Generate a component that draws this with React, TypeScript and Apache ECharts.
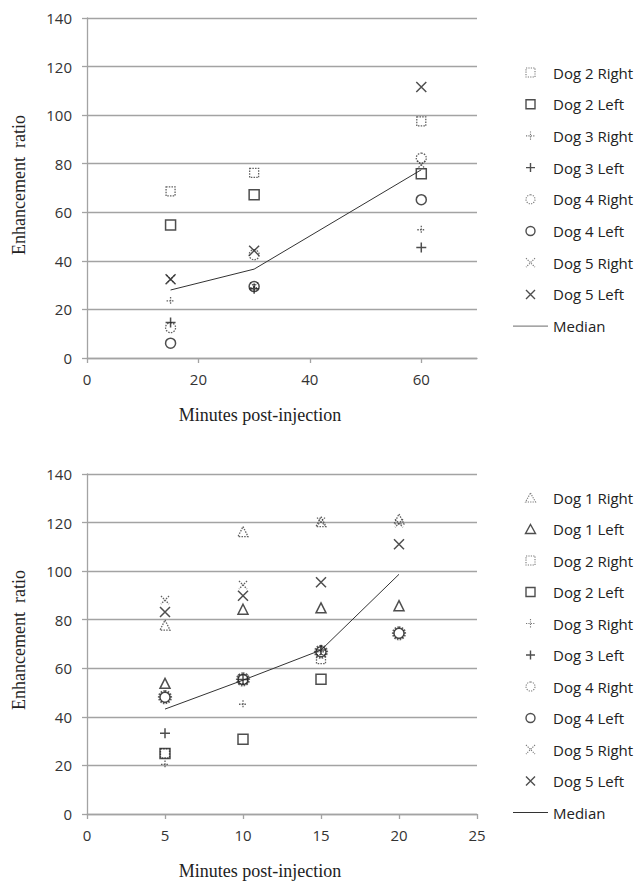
import React, { useEffect, useRef } from "react";
import * as echarts from "echarts";

// ---------- Data: top chart (minutes 15, 30, 60) ----------
const timesTop = [15, 30, 60];
const dog2RightTop = [68.6, 76.2, 97.4];
const dog2LeftTop = [54.8, 67.2, 75.9];
const dog3RightTop = [23.5, 29.0, 52.8];
const dog3LeftTop = [14.6, 28.5, 45.5];
const dog4RightTop = [12.5, 42.5, 82.3];
const dog4LeftTop = [6.1, 29.4, 65.2];
const dog5RightTop = [32.4, 29.5, 79.6];
const dog5LeftTop = [32.4, 44.2, 111.6];
const medianTop = [28.0, 36.6, 77.5];

// ---------- Data: bottom chart (minutes 5, 10, 15, 20) ----------
const timesBottom = [5, 10, 15, 20];
const dog1RightBottom = [77.8, 116.3, 120.4, 121.5];
const dog1LeftBottom = [53.8, 84.3, 84.9, 85.8];
const dog2RightBottom = [25.0, 55.4, 63.8, null];
const dog2LeftBottom = [24.9, 30.8, 55.5, null];
const dog3RightBottom = [20.4, 45.2, 66.8, null];
const dog3LeftBottom = [33.2, 55.4, 67.5, null];
const dog4RightBottom = [48.1, 55.4, 66.8, 74.4];
const dog4LeftBottom = [48.1, 55.4, 66.8, 74.4];
const dog5RightBottom = [88.1, 94.3, 120.4, 119.7];
const dog5LeftBottom = [83.2, 89.9, 95.4, 111.1];
const medianBottom = [43.2, 55.1, 67.5, 98.7];

const xTicksTop = { min: 0, max: 70, interval: 20 };
const xTicksBottom = { min: 0, max: 25, interval: 5 };
const yTicks = { min: 0, max: 140, interval: 20 };

const PLUS = "path://M5,0 L5,10 M0,5 L10,5";
const CROSS = "path://M0,0 L10,10 M10,0 L0,10";
const SQUARE = "path://M0,0 L10,0 L10,10 L0,10 Z";
const CIRCLE = "path://M5,0 A5,5 0 1,1 5,10 A5,5 0 1,1 5,0 Z";
const TRIANGLE = "path://M5,0 L10,9 L0,9 Z";
const LINE_ICON = "path://M0,0 L35,0 L35,1.2 L0,1.2 Z";

const GRID_COLOR = "#a3a3a3";
const SOLID = "#222";
const DOTTED = "#3a3a3a";

type Sty = { symbol: string; size: number; dotted: boolean; width?: number };

const STYLE_TOP: Record<string, Sty> = {
  "Dog 2 Right": { symbol: SQUARE, size: 9, dotted: true },
  "Dog 2 Left": { symbol: SQUARE, size: 10, dotted: false },
  "Dog 3 Right": { symbol: PLUS, size: 8, dotted: true },
  "Dog 3 Left": { symbol: PLUS, size: 10, dotted: false },
  "Dog 4 Right": { symbol: CIRCLE, size: 10, dotted: true },
  "Dog 4 Left": { symbol: CIRCLE, size: 10, dotted: false },
  "Dog 5 Right": { symbol: CROSS, size: 8, dotted: true },
  "Dog 5 Left": { symbol: CROSS, size: 10, dotted: false },
};

const STYLE_BOTTOM: Record<string, Sty> = {
  "Dog 1 Right": { symbol: TRIANGLE, size: 10, dotted: true },
  "Dog 1 Left": { symbol: TRIANGLE, size: 10, dotted: false },
  "Dog 2 Right": { symbol: SQUARE, size: 9, dotted: true },
  "Dog 2 Left": { symbol: SQUARE, size: 10, dotted: false },
  "Dog 3 Right": { symbol: PLUS, size: 8, dotted: true },
  "Dog 3 Left": { symbol: PLUS, size: 10, dotted: false },
  "Dog 4 Right": { symbol: CIRCLE, size: 12, dotted: true, width: 2.2 },
  "Dog 4 Left": { symbol: CIRCLE, size: 10, dotted: false },
  "Dog 5 Right": { symbol: CROSS, size: 8, dotted: true },
  "Dog 5 Left": { symbol: CROSS, size: 10, dotted: false },
};

function scatter(name: string, xs: number[], ys: (number | null)[], st: Sty) {
  const data: number[][] = [];
  xs.forEach((x, i) => {
    const y = ys[i];
    if (y !== null && y !== undefined) data.push([x, y]);
  });
  return {
    type: "scatter",
    name,
    data,
    symbol: st.symbol,
    symbolSize: st.size,
    itemStyle: {
      color: "rgba(0,0,0,0)",
      borderColor: st.dotted ? DOTTED : SOLID,
      borderWidth: st.width ?? (st.dotted ? 1.3 : 1.5),
      borderType: st.dotted ? [1.5, 1.2] : "solid",
    },
    emphasis: { disabled: true },
    z: st.dotted ? 3 : 4,
  };
}

function medianSeries(xs: number[], ys: number[]) {
  return {
    type: "line",
    name: "Median",
    data: xs.map((x, i) => [x, ys[i]]),
    symbol: "none",
    showSymbol: false,
    itemStyle: { color: "#333" },
    lineStyle: { color: "#333", width: 1 },
    emphasis: { disabled: true },
    z: 2,
  };
}

function buildOption(opts: {
  gridTop: number;
  xTicks: { min: number; max: number; interval: number };
  series: any[];
  styles: Record<string, Sty>;
  legendTop: number;
  legendGap: number;
  medianLegendColor: string;
  xTitleY: number;
  yTitleY: number;
}) {
  const axisLine = { show: true, lineStyle: { color: GRID_COLOR, width: 1.3 } };
  const axisTick = { show: true, length: 5, lineStyle: { color: GRID_COLOR, width: 1.3 } };
  const labelStyle = { fontFamily: "Open Sans", fontSize: 15, color: "#333" };
  const legendData: any[] = Object.keys(opts.styles).map((n) => {
    const st = opts.styles[n];
    return {
      name: n,
      itemStyle: {
        color: "rgba(0,0,0,0)",
        borderColor: st.dotted ? "#555" : SOLID,
        borderWidth: st.dotted ? 1.1 : 1.4,
        borderType: st.dotted ? [1.2, 1.2] : "solid",
      },
    };
  });
  legendData.push({
    name: "Median",
    icon: LINE_ICON,
    itemStyle: { color: opts.medianLegendColor, borderWidth: 0 },
  });
  return {
    animation: false,
    grid: { left: 87, top: opts.gridTop, width: 390, height: 340 },
    xAxis: {
      type: "value",
      min: opts.xTicks.min,
      max: opts.xTicks.max,
      interval: opts.xTicks.interval,
      axisLine,
      axisTick,
      splitLine: { show: false },
      axisLabel: { ...labelStyle, margin: 13, showMaxLabel: opts.xTicks.max % opts.xTicks.interval === 0 },
    },
    yAxis: {
      type: "value",
      min: yTicks.min,
      max: yTicks.max,
      interval: yTicks.interval,
      axisLine,
      axisTick,
      splitLine: { show: true, lineStyle: { color: GRID_COLOR, width: 1.3 } },
      axisLabel: { ...labelStyle, margin: 15 },
    },
    legend: {
      orient: "vertical",
      left: 513,
      top: opts.legendTop,
      padding: 0,
      itemWidth: 35,
      itemHeight: 9,
      itemGap: opts.legendGap,
      selectedMode: false,
      textStyle: { fontFamily: "Open Sans", fontSize: 15, color: "#222" },
      data: legendData,
    },
    graphic: [
      {
        type: "text",
        x: 260,
        y: opts.xTitleY,
        style: {
          text: "Minutes post-injection",
          font: '18px "Liberation Serif"',
          fill: "#222",
          align: "center",
          verticalAlign: "middle",
        },
      },
      {
        type: "text",
        x: 19,
        y: opts.yTitleY,
        rotation: Math.PI / 2,
        style: {
          text: "Enhancement  ratio",
          font: '18px "Liberation Serif"',
          fill: "#222",
          align: "center",
          verticalAlign: "middle",
        },
      },
    ],
    series: opts.series,
  };
}

export default function App() {
  const topRef = useRef<HTMLDivElement>(null);
  const botRef = useRef<HTMLDivElement>(null);

  useEffect(() => {
    const topNames = Object.keys(STYLE_TOP);
    const topYs = [
      dog2RightTop, dog2LeftTop, dog3RightTop, dog3LeftTop,
      dog4RightTop, dog4LeftTop, dog5RightTop, dog5LeftTop,
    ];
    const topSeries = [
      ...topNames.map((n, i) => scatter(n, timesTop, topYs[i], STYLE_TOP[n])),
      medianSeries(timesTop, medianTop),
    ];

    const botNames = Object.keys(STYLE_BOTTOM);
    const botYs = [
      dog1RightBottom, dog1LeftBottom, dog2RightBottom, dog2LeftBottom,
      dog3RightBottom, dog3LeftBottom, dog4RightBottom, dog4LeftBottom,
      dog5RightBottom, dog5LeftBottom,
    ];
    const botSeries = [
      ...botNames.map((n, i) => scatter(n, timesBottom, botYs[i], STYLE_BOTTOM[n])),
      medianSeries(timesBottom, medianBottom),
    ];

    const c1 = echarts.init(topRef.current!, undefined, { renderer: "svg" });
    c1.setOption(
      buildOption({
        gridTop: 18,
        xTicks: xTicksTop,
        series: topSeries,
        styles: STYLE_TOP,
        legendTop: 65,
        legendGap: 16.7,
        medianLegendColor: "#888",
        xTitleY: 415,
        yTitleY: 185,
      })
    );
    const c2 = echarts.init(botRef.current!, undefined, { renderer: "svg" });
    c2.setOption(
      buildOption({
        gridTop: 26,
        xTicks: xTicksBottom,
        series: botSeries,
        styles: STYLE_BOTTOM,
        legendTop: 42,
        legendGap: 16.5,
        medianLegendColor: "#333",
        xTitleY: 423,
        yTitleY: 192,
      })
    );
    return () => {
      c1.dispose();
      c2.dispose();
    };
  }, []);

  return (
    <div style={{ position: "fixed", left: 0, top: 0, width: 644, height: 896, background: "#fff" }}>
      <div ref={topRef} style={{ position: "absolute", left: 0, top: 0, width: 644, height: 448 }} />
      <div ref={botRef} style={{ position: "absolute", left: 0, top: 448, width: 644, height: 448 }} />
    </div>
  );
}
